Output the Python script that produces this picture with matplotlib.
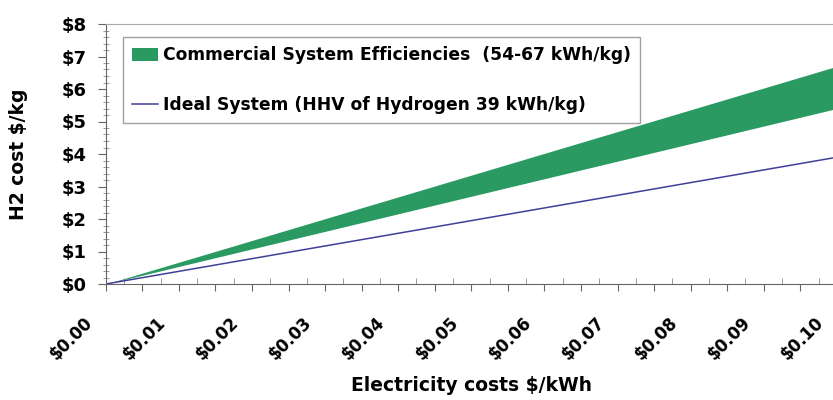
import matplotlib.pyplot as plt
from matplotlib.ticker import MultipleLocator, FuncFormatter
from matplotlib.transforms import ScaledTranslation

plt.rcParams['font.family'] = ['DejaVu Sans']
plt.rcParams['font.weight'] = 'bold'

# electricity cost ($/kWh) at the ends of the lines
elec = [0.0, 0.10]
commercial_low = [0.0, 5.4]   # 54 kWh/kg
commercial_high = [0.0, 6.7]  # 67 kWh/kg
ideal = [0.0, 3.9]            # 39 kWh/kg

fig = plt.figure(figsize=(8.33, 4), dpi=100)
ax = fig.add_axes([0.127, 0.29, 0.8776, 0.65])

ax.fill_between(elec, commercial_low, commercial_high, color="#2a9a62", linewidth=0,
                label="Commercial System Efficiencies  (54-67 kWh/kg)")
ax.plot(elec, ideal, color="#40409a", linewidth=1.1,
        label="Ideal System (HHV of Hydrogen 39 kWh/kg)")

ax.set_xlim(0, 0.10)
ax.set_ylim(0, 8)

ax.yaxis.set_major_locator(MultipleLocator(1))
ax.yaxis.set_minor_locator(MultipleLocator(0.2))
ax.yaxis.set_major_formatter(FuncFormatter(lambda v, p: "$%d" % round(v)))
ax.xaxis.set_major_locator(MultipleLocator(0.005))
ax.xaxis.set_minor_locator(MultipleLocator(0.0025))
ax.xaxis.set_major_formatter(FuncFormatter(
    lambda v, p: "$%.2f" % v if round(v * 1000) % 10 == 0 else ""))

ax.tick_params(axis="y", which="major", direction="out", length=6, color="#666666",
               labelsize=13, pad=8)
ax.tick_params(axis="y", which="minor", direction="inout", length=4, color="#888888")
ax.tick_params(axis="x", which="major", direction="out", length=5, color="#666666",
               labelsize=12, pad=21)
ax.tick_params(axis="x", which="minor", direction="in", length=4, color="#888888")
shift = ScaledTranslation(-0.16, 0, fig.dpi_scale_trans)
for lab in ax.get_xticklabels():
    lab.set_rotation(45)
    lab.set_ha("right")
    lab.set_va("center")
    lab.set_rotation_mode("anchor")
    lab.set_transform(lab.get_transform() + shift)

for s in ["left", "bottom"]:
    ax.spines[s].set_color("#666666")
ax.spines["top"].set_color("#aaaaaa")
ax.spines["right"].set_visible(False)

ax.set_xlabel("Electricity costs $/kWh", fontsize=13.5, fontweight="bold", labelpad=9)
ax.set_ylabel("H2 cost $/kg", fontsize=13.5, fontweight="bold", labelpad=24)

leg = ax.legend(loc="upper left", bbox_to_anchor=(0.023, 0.95), fontsize=12.3,
                frameon=True, fancybox=False, edgecolor="#888888", labelspacing=1.85,
                handlelength=1.5, handleheight=0.8, borderpad=0.55, handletextpad=0.3,
                borderaxespad=0)
leg.get_frame().set_linewidth(1.0)

plt.savefig("out.png", dpi=100)
